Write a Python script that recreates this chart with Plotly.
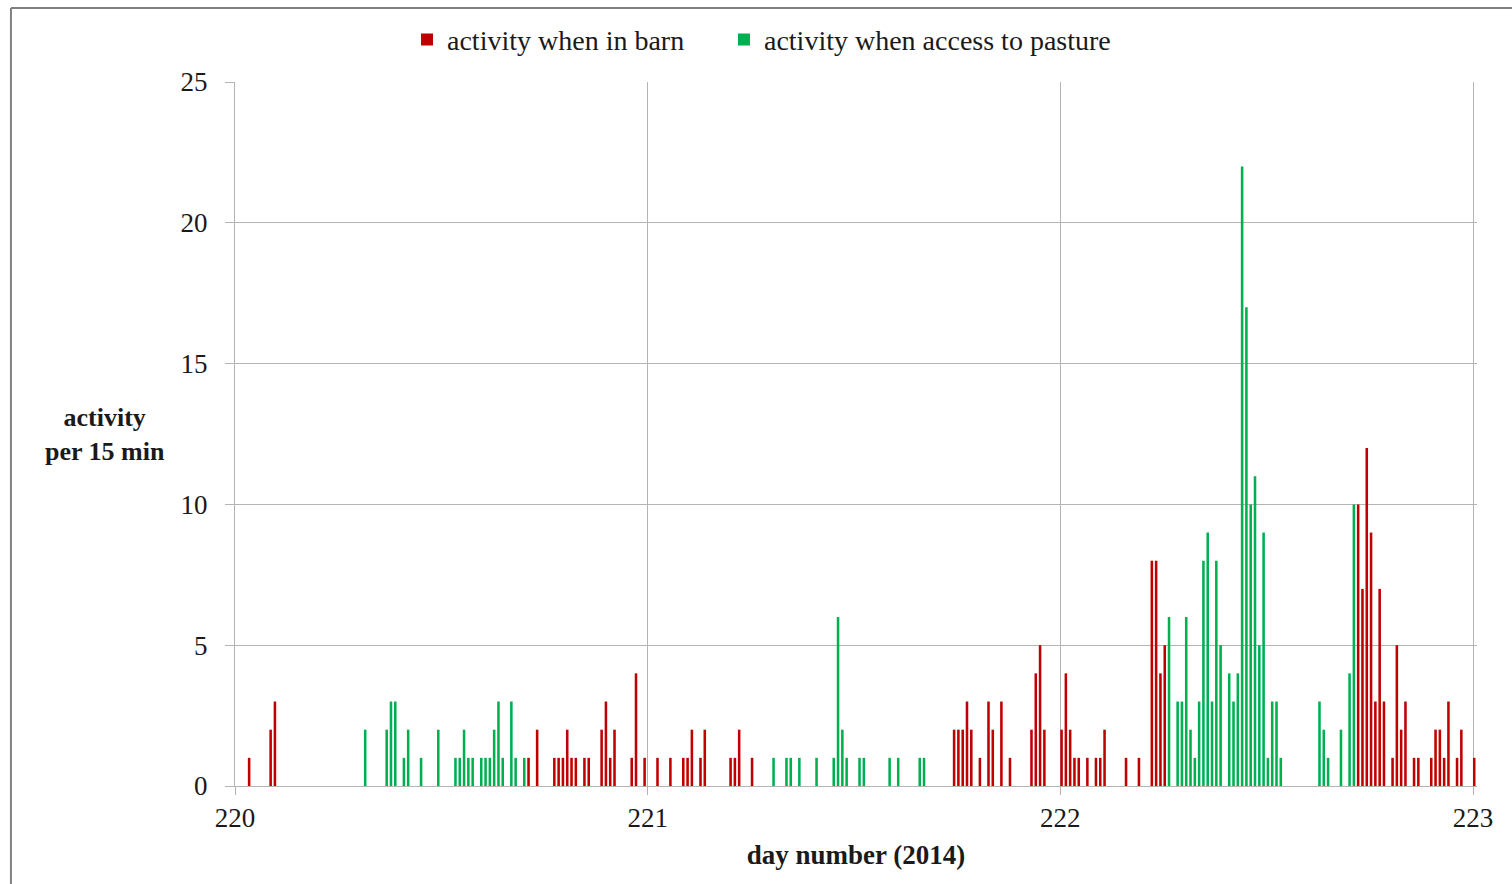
import plotly.graph_objects as go

# 15-minute slot index counted from the start of day 220, and activity per slot
barn_slots = [3, 8, 9,
              68, 70, 74, 75, 76, 77, 78, 79, 81, 82, 85, 86, 87, 88, 92, 93, 95, 98,
              101, 104, 105, 106, 108, 109, 115, 116, 117, 120,
              167, 168, 169, 170, 171, 173, 175, 176, 178, 180, 185, 186, 187, 188,
              192, 193, 194, 195, 196, 198, 200, 201, 202, 207, 210, 213, 214, 215, 216,
              261, 262, 263, 264, 265, 266, 267, 269, 270, 271, 272, 274, 275, 278, 279,
              280, 281, 282, 284, 285, 288]
barn_values = [1, 2, 3,
               1, 2, 1, 1, 1, 2, 1, 1, 1, 1, 2, 3, 1, 2, 1, 4, 1, 1,
               1, 1, 1, 2, 1, 2, 1, 1, 2, 1,
               2, 2, 2, 3, 2, 1, 3, 2, 3, 1, 2, 4, 5, 2,
               2, 4, 2, 1, 1, 1, 1, 1, 2, 1, 1, 8, 8, 4, 5,
               10, 7, 12, 9, 3, 7, 3, 1, 5, 2, 3, 1, 1, 1, 2,
               2, 1, 3, 1, 2, 1]

pasture_slots = [30, 35, 36, 37, 39, 40, 43, 47,
                 51, 52, 53, 54, 55, 57, 58, 59, 60, 61, 62, 64, 65, 67,
                 125, 128, 129, 131, 135, 139, 140, 141, 142, 145, 146, 152, 154, 159, 160,
                 217, 219, 220, 221, 222, 223, 224, 225, 226, 227, 228, 229, 231, 232, 233,
                 234, 235, 236, 237, 238, 239, 240, 241, 242, 243,
                 252, 253, 254, 257, 259, 260]
pasture_values = [2, 2, 3, 3, 1, 2, 1, 2,
                  1, 1, 2, 1, 1, 1, 1, 1, 2, 3, 1, 3, 1, 1,
                  1, 1, 1, 1, 1, 1, 6, 2, 1, 1, 1, 1, 1, 1, 1,
                  6, 3, 3, 6, 2, 1, 3, 8, 9, 3, 8, 5, 4, 3, 4,
                  22, 17, 10, 11, 5, 9, 1, 3, 3, 1,
                  3, 2, 1, 2, 4, 10]

start_day = 220
slots_per_day = 96
x_ticks = [220, 221, 222, 223]
y_ticks = [0, 5, 10, 15, 20, 25]

barn_x = [start_day + s / slots_per_day for s in barn_slots]
pasture_x = [start_day + s / slots_per_day for s in pasture_slots]

FONT = "Liberation Serif"
GRID = "#B4B4B4"
BAR_W = 0.0062
BAR_OFF = -BAR_W / 2 + 0.003

fig = go.Figure()
fig.add_trace(go.Bar(x=barn_x, y=barn_values, name="activity when in barn",
                     marker=dict(color="#C00000", line=dict(width=0)),
                     width=BAR_W, offset=BAR_OFF, legend="legend", showlegend=True))
fig.add_trace(go.Bar(x=pasture_x, y=pasture_values, name="activity when access to pasture",
                     marker=dict(color="#00B050", line=dict(width=0)),
                     width=BAR_W, offset=BAR_OFF, legend="legend2", showlegend=True))

legend_common = dict(orientation="h", yanchor="middle", y=1.06, xanchor="left",
                     font=dict(family=FONT, size=28), itemwidth=30,
                     bgcolor="rgba(0,0,0,0)", visible=True)

fig.update_layout(
    width=1512, height=884,
    margin=dict(l=235, r=35, t=82, b=98),
    paper_bgcolor="white", plot_bgcolor="white",
    barmode="overlay",
    showlegend=True,
    font=dict(family=FONT, size=27, color="#1a1a1a"),
    legend=dict(legend_common, x=0.1385),
    legend2=dict(legend_common, x=0.3937),
    xaxis=dict(range=[220, 223.0097], tickvals=x_ticks, ticktext=[str(v) for v in x_ticks],
               showgrid=True, gridcolor=GRID, gridwidth=1,
               showline=True, linecolor=GRID, linewidth=1,
               ticks="outside", ticklen=8, tickcolor=GRID,
               tickfont=dict(family=FONT, size=27), zeroline=False,
               title=dict(text="<b>day number (2014)</b>", font=dict(family=FONT, size=27), standoff=12)),
    yaxis=dict(range=[0, 25], tickvals=y_ticks,
               showgrid=True, gridcolor=GRID, gridwidth=1,
               showline=True, linecolor=GRID, linewidth=1,
               ticks="outside", ticklen=9, tickcolor=GRID, ticklabelstandoff=12,
               tickfont=dict(family=FONT, size=27), zeroline=False),
    annotations=[dict(text="<b>activity</b><br><b>per 15 min</b>", xref="paper", yref="paper",
                      x=-0.1047, y=0.5, xanchor="center", yanchor="middle", showarrow=False,
                      font=dict(family=FONT, size=26, color="#1a1a1a"), align="center")],
    shapes=[
        dict(type="line", xref="paper", yref="paper", x0=-0.1804, x1=1.04, y0=1.1051, y1=1.1051,
             line=dict(color="#808080", width=2)),
        dict(type="line", xref="paper", yref="paper", x0=-0.1804, x1=-0.1804, y0=1.1051, y1=-0.16,
             line=dict(color="#808080", width=2)),
    ],
)

fig.write_html("out.html", config={"displayModeBar": False},
               post_script="document.body.style.margin='0';")
